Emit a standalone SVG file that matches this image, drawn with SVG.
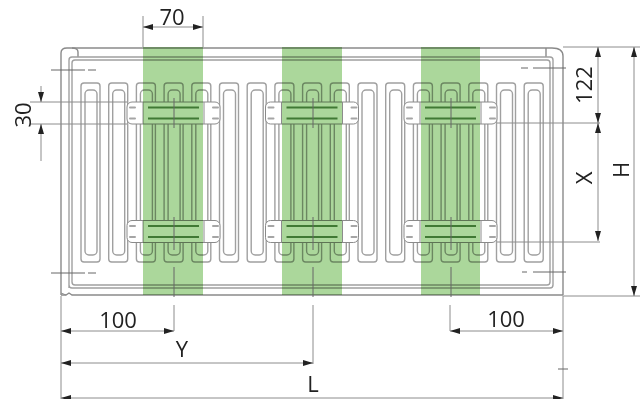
<svg xmlns="http://www.w3.org/2000/svg" xmlns:xlink="http://www.w3.org/1999/xlink" width="644" height="399" viewBox="0 0 644 399">
<style>
.l{fill:none;stroke:#a0a0a0;stroke-width:1.4}
.b{fill:none;stroke:#8a8a8a;stroke-width:1.4}
.d{fill:none;stroke:#8c8c8c;stroke-width:1}
.c{fill:none;stroke:#666;stroke-width:1}
.g{fill:#abd79b;mix-blend-mode:multiply}
.t{font-family:"Open Sans","Noto Sans",sans-serif;font-size:22px;fill:#222;text-anchor:middle}
.s{fill:none;stroke:#5f8f55;stroke-width:2.2}
.e{fill:none;stroke:#a5a5a5;stroke-width:2;stroke-linecap:round}
</style>
<defs>
<g id="fin"><rect class="l" x="81" y="83" width="19" height="179" rx="3"/><rect class="l" x="85" y="90" width="12" height="165" rx="4"/></g>
<g id="bracket">
<rect x="127" y="0" width="93" height="22" rx="5" fill="#fff" stroke="#8a8a8a" stroke-width="1"/>
<path class="e" d="M130 5.500H135M130 16.500H135M213 5.500H218M213 16.500H218"/>
<path class="d" d="M143 0V22M204 0V22"/>
<path class="s" d="M148 5.500H199M148 16.500H199"/>
</g>
<marker id="ah" markerUnits="userSpaceOnUse" viewBox="0 0 10 6" refX="10" refY="3" markerWidth="10" markerHeight="6" orient="auto-start-reverse"><path d="M0 0L10 3L0 6Z" fill="#222"/></marker>
</defs>
<g id="radiator">
<path class="b" d="M61 295V53Q61 48 67 48H72Q78 48 78 52V57"/>
<path class="b" d="M72 48H552Q563 48 563 56V295M546 48V57"/>
<path class="l" d="M69 288V60Q69 57 72 57H550Q553 57 553 60V285Q553 288 550 288H72Q69 288 69 285Z"/>
<path class="l" d="M72 282V63Q72 60 75 60H547Q550 60 550 63V282Q550 285 547 285H75Q72 285 72 282Z"/>
<path class="b" d="M61 295H66L69 293L72 295H563"/>
<path class="d" d="M61 293L66 295"/>
<g id="fins">
<use xlink:href="#fin"/>
<use xlink:href="#fin" x="27.700"/>
<use xlink:href="#fin" x="55.400"/>
<use xlink:href="#fin" x="83.100"/>
<use xlink:href="#fin" x="110.800"/>
<use xlink:href="#fin" x="138.500"/>
<use xlink:href="#fin" x="166.200"/>
<use xlink:href="#fin" x="193.900"/>
<use xlink:href="#fin" x="221.600"/>
<use xlink:href="#fin" x="249.300"/>
<use xlink:href="#fin" x="277"/>
<use xlink:href="#fin" x="304.700"/>
<use xlink:href="#fin" x="332.400"/>
<use xlink:href="#fin" x="360.100"/>
<use xlink:href="#fin" x="387.800"/>
<use xlink:href="#fin" x="415.500"/>
<use xlink:href="#fin" x="443.200"/>
</g>
</g>
<g id="brackets">
<use xlink:href="#bracket" y="102"/>
<use xlink:href="#bracket" y="220.500"/>
<use xlink:href="#bracket" x="138.500" y="102"/>
<use xlink:href="#bracket" x="138.500" y="220.500"/>
<use xlink:href="#bracket" x="277" y="102"/>
<use xlink:href="#bracket" x="277" y="220.500"/>
</g>
<g id="strips">
<rect class="g" x="143" y="47" width="60" height="248"/>
<rect class="g" x="282" y="47" width="60" height="248"/>
<rect class="g" x="421" y="47" width="59" height="248"/>
</g>
<g id="connectors">
<path class="c" d="M51 70H85M88 70H96M51 273H85M88 273H96M521 68H528M533 68H566M522 272H527M533 272H566"/>
<path class="c" d="M174 98V128M174 217V250M174 267V297M313 98V128M313 217V250M313 267V297M451 98V128M451 217V250M451 267V297"/>
<path class="d" d="M143 16V47M203 16V47"/>
<path class="d" d="M143 27H203" marker-start="url(#ah)" marker-end="url(#ah)"/>
<path class="d" d="M30 102H127M30 124H127M497 123H600M497 242H600"/>
<path class="d" d="M41 86V102" marker-end="url(#ah)"/>
<path class="d" d="M41 161V124" marker-end="url(#ah)"/>
<path class="d" d="M563 47H640M563 296H640"/>
<path class="d" d="M598 47V123" marker-start="url(#ah)" marker-end="url(#ah)"/>
<path class="d" d="M598 123V241" marker-start="url(#ah)" marker-end="url(#ah)"/>
<path class="d" d="M634 47V296" marker-start="url(#ah)" marker-end="url(#ah)"/>
<path class="d" d="M61 296V399M563 296V399M174 305V331M313 305V364M450 305V331"/>
<path class="d" d="M61 331H174" marker-start="url(#ah)" marker-end="url(#ah)"/>
<path class="d" d="M450 331H563" marker-start="url(#ah)" marker-end="url(#ah)"/>
<path class="d" d="M61 363H313" marker-start="url(#ah)" marker-end="url(#ah)"/>
<path class="d" d="M61 398H563" marker-start="url(#ah)" marker-end="url(#ah)"/>
<path class="c" d="M558 369H568"/>
</g>
<g id="labels">
<text class="t" x="172" y="25">70</text>
<text class="t" transform="translate(31 115) rotate(-90)">30</text>
<text class="t" transform="translate(592 85) rotate(-90)">122</text>
<text class="t" transform="translate(592 178) rotate(-90)">X</text>
<text class="t" transform="translate(629 170) rotate(-90)">H</text>
<text class="t" x="118" y="328">100</text>
<text class="t" x="506" y="327">100</text>
<text class="t" x="182" y="357">Y</text>
<text class="t" x="313" y="392">L</text>
</g>
</svg>
